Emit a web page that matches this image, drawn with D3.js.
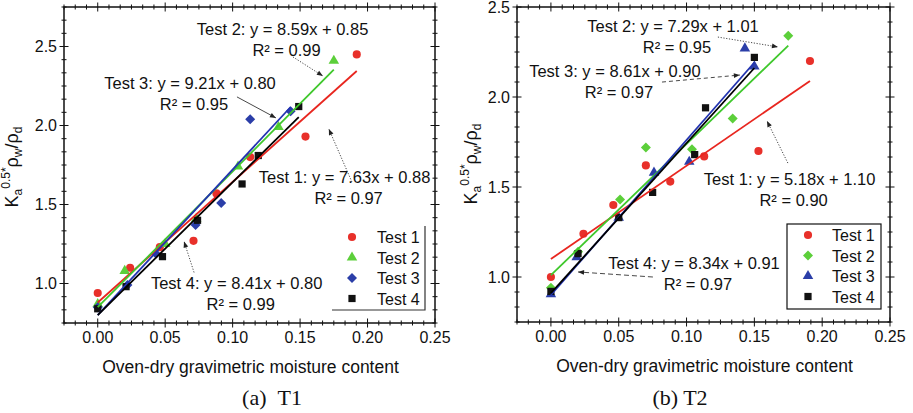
<!DOCTYPE html>
<html>
<head>
<meta charset="utf-8">
<script src="https://cdn.jsdelivr.net/npm/d3@7"></script>
<style>
  body { margin: 0; background: #fff; }
  svg { display: block; }
  text { font-family: "Liberation Sans", Arial, sans-serif; fill: #111; }
</style>
</head>
<body>
<div id="chart"></div>
<script>
const seriesNames = ["Test 1", "Test 2", "Test 3", "Test 4"];
const xTicks = [0, 0.05, 0.10, 0.15, 0.20, 0.25];
const yTicks = [1.0, 1.5, 2.0, 2.5];

// (a) T1  -- [moisture content, Ka^0.5*rho_w/rho_d]
const t1Test1 = [[0, 0.94], [0.024, 1.10], [0.046, 1.23], [0.071, 1.27], [0.088, 1.57], [0.113, 1.80], [0.154, 1.93], [0.192, 2.45]];
const t1Test2 = [[0, 0.87], [0.020, 1.08], [0.050, 1.25], [0.073, 1.41], [0.104, 1.74], [0.134, 1.99], [0.175, 2.41]];
const t1Test3 = [[0, 0.85], [0.022, 0.99], [0.043, 1.19], [0.0725, 1.37], [0.0915, 1.51], [0.113, 2.04], [0.143, 2.09]];
const t1Test4 = [[0, 0.84], [0.021, 0.98], [0.048, 1.17], [0.074, 1.40], [0.107, 1.63], [0.119, 1.81], [0.149, 2.12]];
const t1Slope = [7.63, 8.59, 9.21, 8.41];
const t1Intercept = [0.88, 0.85, 0.80, 0.80];
const t1R2 = [0.97, 0.99, 0.95, 0.99];

// (b) T2
const t2Test1 = [[0, 1.00], [0.024, 1.24], [0.046, 1.40], [0.070, 1.62], [0.088, 1.53], [0.113, 1.67], [0.153, 1.70], [0.191, 2.20]];
const t2Test2 = [[0, 0.94], [0.020, 1.14], [0.051, 1.43], [0.070, 1.72], [0.104, 1.71], [0.134, 1.88], [0.175, 2.34]];
const t2Test3 = [[0, 0.905], [0.019, 1.11], [0.050, 1.33], [0.076, 1.58], [0.102, 1.64], [0.143, 2.27], [0.150, 2.17]];
const t2Test4 = [[0, 0.92], [0.020, 1.13], [0.050, 1.33], [0.075, 1.47], [0.106, 1.68], [0.114, 1.94], [0.150, 2.22]];
const t2Slope = [5.18, 7.29, 8.61, 8.34];
const t2Intercept = [1.10, 1.01, 0.90, 0.91];
const t2R2 = [0.90, 0.95, 0.97, 0.97];

const colors = ["#e8302a", "#5ccf3a", "#2b3ea8", "#111111"];
const lineColors = ["#e8261f", "#3fc82c", "#2233b0", "#000000"];

const width = 913, height = 413;
const svg = d3.select("#chart").append("svg")
  .attr("width", width).attr("height", height);

svg.append("defs").append("marker")
  .attr("id", "ah")
  .attr("viewBox", "0 0 10 10")
  .attr("refX", 10).attr("refY", 5)
  .attr("markerUnits", "userSpaceOnUse")
  .attr("markerWidth", 8).attr("markerHeight", 6)
  .attr("orient", "auto")
  .append("path").attr("d", "M0,1L10,5L0,9z").attr("fill", "#222");

const sym = {
  circle: d3.symbol().type(d3.symbolCircle).size(52),
  triangle: d3.symbol().type(d3.symbolTriangle).size(48),
  square: d3.symbol().type(d3.symbolSquare).size(52),
  diamond: d3.symbol().type(d3.symbolSquare).size(50)
};

const panels = [
  {
    data: [t1Test1, t1Test2, t1Test3, t1Test4],
    slope: t1Slope, intercept: t1Intercept, r2: t1R2,
    symbols: ["circle", "triangle", "diamond", "square"],
    box: { l: 64, t: 7, r: 435, b: 323 }, yTop: 2.75,
    caption: "(a)\u00a0\u00a0T1", captionX: 272,
    yLabel: { x: 18, y: 167 },
    legend: { x: 332, y: 226, w: 93, h: 84, full: false, sx: 352, tx: 377 },
    // [label x, label y, arrow from x, y, arrow to x, y, dash]
    notes: [
      [0.183, 1.674, 0.1884, 1.643, 0.1713, 1.978, "1.2,1.6"],
      [0.137, 2.610, 0.1447, 2.434, 0.1669, 2.313, "1.2,1.6"],
      [0.0684, 2.270, 0.1032, 2.181, 0.1321, 2.048, null],
      [0.103, 1.003, 0.0714, 1.070, 0.0640, 1.266, "1.2,1.6"]
    ]
  },
  {
    data: [t2Test1, t2Test2, t2Test3, t2Test4],
    slope: t2Slope, intercept: t2Intercept, r2: t2R2,
    symbols: ["circle", "diamond", "triangle", "square"],
    box: { l: 517, t: 7, r: 890, b: 322 }, yTop: 2.5,
    caption: "(b) T2", captionX: 680,
    yLabel: { x: 477, y: 164 },
    legend: { x: 787, y: 224, w: 94, h: 85, full: true, sx: 808, tx: 832 },
    notes: [
      [0.176, 1.544, 0.1747, 1.633, 0.1593, 1.867, "1.2,1.6"],
      [0.090, 2.394, 0.1231, 2.333, 0.1674, 2.278, "1.2,1.6"],
      [0.0472, 2.144, 0.0819, 2.083, 0.1393, 2.122, "4,3"],
      [0.1055, 1.078, 0.0752, 1.000, 0.0200, 1.028, "5,3"]
    ]
  }
];

panels.forEach(p => {
  const g = svg.append("g");
  const x = d3.scaleLinear().domain([-0.025, 0.25]).range([p.box.l, p.box.r]);
  const y = d3.scaleLinear().domain([0.75, p.yTop]).range([p.box.b, p.box.t]);

  // frame
  g.append("rect")
    .attr("x", p.box.l).attr("y", p.box.t)
    .attr("width", p.box.r - p.box.l).attr("height", p.box.b - p.box.t)
    .attr("fill", "none").attr("stroke", "#111").attr("stroke-width", 1.5);

  // ticks: 5 minor ticks between majors
  const xStep = 0.05 / 6, yStep = 0.5 / 6;
  const xk = d3.range(-3, 31), yk = d3.range(9, Math.round(p.yTop / yStep) + 1);
  const tk = g.append("g").attr("stroke", "#111").attr("stroke-width", 1);
  xk.forEach(k => {
    const len = k % 6 === 0 ? 4.5 : 2.5, px = x(k * xStep);
    tk.append("line").attr("x1", px).attr("x2", px).attr("y1", p.box.b - len).attr("y2", p.box.b + len);
    tk.append("line").attr("x1", px).attr("x2", px).attr("y1", p.box.t - len).attr("y2", p.box.t + len);
  });
  yk.forEach(k => {
    const len = k % 6 === 0 ? 4.5 : 2.5, py = y(k * yStep);
    tk.append("line").attr("y1", py).attr("y2", py).attr("x1", p.box.l - len).attr("x2", p.box.l + len);
    tk.append("line").attr("y1", py).attr("y2", py).attr("x1", p.box.r - len).attr("x2", p.box.r + len);
  });

  g.selectAll(".xl").data(xTicks).enter().append("text")
    .attr("x", d => x(d)).attr("y", p.box.b + 20)
    .attr("text-anchor", "middle").attr("font-size", 16)
    .text(d3.format(".2f"));
  g.selectAll(".yl").data(yTicks.filter(v => v <= p.yTop)).enter().append("text")
    .attr("x", p.box.l - 7).attr("y", d => y(d) + 5.5)
    .attr("text-anchor", "end").attr("font-size", 16)
    .text(d3.format(".1f"));

  g.append("text")
    .attr("x", (p.box.l + p.box.r) / 2 + 1).attr("y", p.box.b + 50)
    .attr("text-anchor", "middle").attr("font-size", 17.5)
    .text("Oven-dry gravimetric moisture content");

  g.append("text")
    .attr("x", p.captionX).attr("y", 405)
    .attr("text-anchor", "middle")
    .style("font-family", '"Liberation Serif", "Times New Roman", serif')
    .attr("font-size", 22)
    .text(p.caption);

  // y label
  const yl = g.append("text")
    .attr("transform", `translate(${p.yLabel.x},${p.yLabel.y}) rotate(-90)`)
    .attr("text-anchor", "middle").attr("font-size", 18);
  yl.append("tspan").text("K");
  yl.append("tspan").attr("font-size", 12).attr("dy", 4).text("a");
  yl.append("tspan").attr("font-size", 12).attr("dy", -12).text("0.5*");
  yl.append("tspan").attr("dy", 8).text("\u03c1");
  yl.append("tspan").attr("font-size", 12).attr("dy", 4).text("w");
  yl.append("tspan").attr("dy", -4).text("/\u03c1");
  yl.append("tspan").attr("font-size", 12).attr("dy", 4).text("d");

  // markers
  p.data.forEach((s, i) => {
    g.selectAll(null).data(s).enter().append("path")
      .attr("d", sym[p.symbols[i]])
      .attr("transform", d => `translate(${x(d[0])},${y(d[1])})` + (p.symbols[i] === "diamond" ? " rotate(45)" : ""))
      .attr("fill", colors[i]);
  });

  // fitted lines over the data range
  p.data.forEach((s, i) => {
    const ext = d3.extent(s, d => d[0]);
    g.append("line")
      .attr("x1", x(ext[0])).attr("y1", y(p.slope[i] * ext[0] + p.intercept[i]))
      .attr("x2", x(ext[1])).attr("y2", y(p.slope[i] * ext[1] + p.intercept[i]))
      .attr("stroke", lineColors[i]).attr("stroke-width", 1.8);
  });

  // equations and arrows
  p.notes.forEach((n, i) => {
    g.append("line")
      .attr("x1", x(n[2])).attr("y1", y(n[3]))
      .attr("x2", x(n[4])).attr("y2", y(n[5]))
      .attr("stroke", "#333").attr("stroke-width", 0.9)
      .attr("stroke-dasharray", n[6])
      .attr("marker-end", "url(#ah)");
    const t = g.append("text").attr("text-anchor", "middle").attr("font-size", 16.5);
    t.append("tspan").attr("x", x(n[0])).attr("y", y(n[1]) + 6)
      .text(`Test ${i + 1}: y = ${p.slope[i].toFixed(2)}x + ${p.intercept[i].toFixed(2)}`);
    t.append("tspan").attr("x", x(n[0]) + 4).attr("dy", 21)
      .text(`R\u00b2 = ${p.r2[i].toFixed(2)}`);
  });

  // legend
  const L = p.legend;
  if (L.full) {
    g.append("rect").attr("x", L.x).attr("y", L.y).attr("width", L.w).attr("height", L.h)
      .attr("fill", "#fff").attr("stroke", "#111").attr("stroke-width", 1.2);
  } else {
    g.append("path")
      .attr("d", `M${L.x},${L.y + L.h}H${L.x + L.w}V${L.y}`)
      .attr("fill", "none").attr("stroke", "#333").attr("stroke-width", 1.2);
  }
  seriesNames.forEach((name, i) => {
    const ry = L.y + 11 + i * 20.5;
    g.append("path")
      .attr("d", sym[p.symbols[i]])
      .attr("transform", `translate(${L.sx},${ry})` + (p.symbols[i] === "diamond" ? " rotate(45)" : ""))
      .attr("fill", colors[i]);
    g.append("text").attr("x", L.tx).attr("y", ry + 6)
      .attr("font-size", 16).text(name);
  });
});
</script>
</body>
</html>
